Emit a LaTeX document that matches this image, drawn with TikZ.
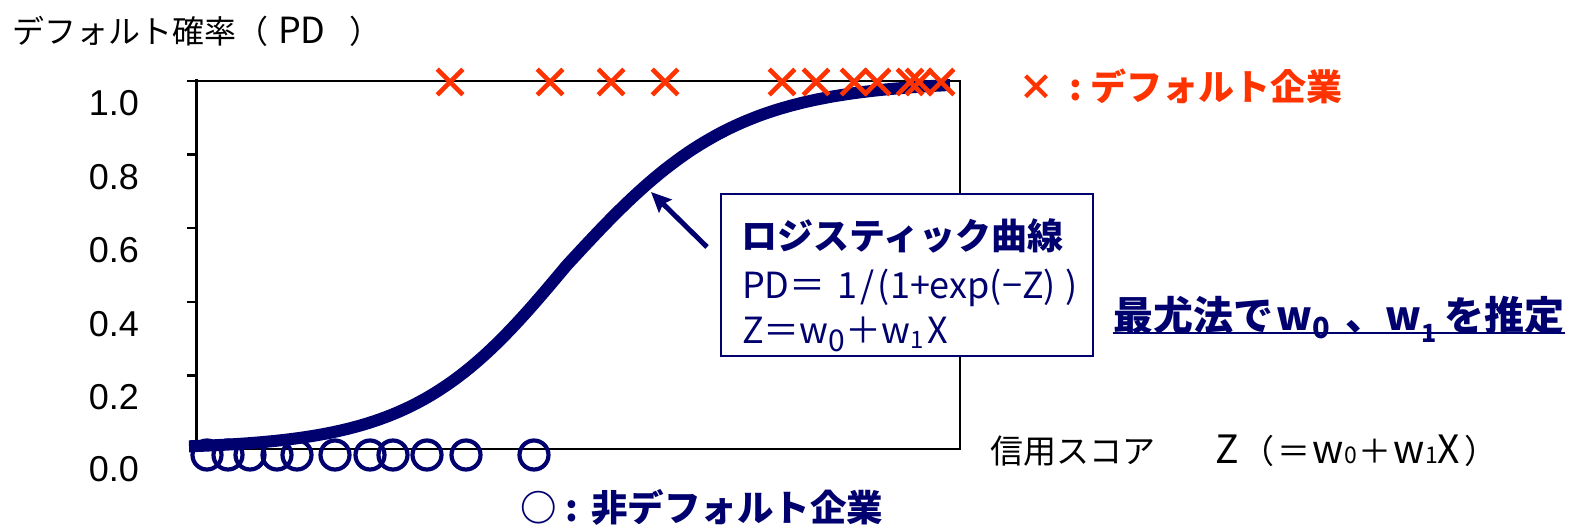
\documentclass[tikz,border=0pt]{standalone}
\usepackage{fontspec}
\setmainfont{Liberation Sans}
\newfontfamily\cjk{Noto Sans CJK JP}
\usetikzlibrary{arrows.meta,shapes.misc}
\definecolor{navy}{RGB}{0,0,110}
\definecolor{dred}{RGB}{255,51,0}
\newcommand{\fsz}[1]{\fontsize{#1}{#1}\selectfont}
\newcommand{\lsub}[3]{\raisebox{-#1}{\fsz{#2}#3}}
\newcommand{\lat}[2]{{\fsz{#1}#2}}
\begin{document}
\begin{tikzpicture}[x=1pt,y=-1pt,
  ticklbl/.style={anchor=east,inner sep=0,font=\fsz{36}},
  defm/.style={draw=dred,shape=cross out,minimum size=21,line width=4.6,inner sep=0},
  ndm/.style={draw=navy,circle,minimum size=29,line width=4.2,inner sep=0},
  jtxt/.style={inner sep=0,anchor=west,font=\cjk\fsz{#1}},
  jtxt/.default=33,
  curvestyle/.style={draw=navy,line width=12,line join=round},
  pointer/.style={draw=navy,line width=5,-{Stealth[length=20pt,width=18pt,inset=3pt]}}]
\useasboundingbox (0,0) rectangle (1573,529);
% frame
\draw[line width=2] (196,81) rectangle (960,449);
\draw[line width=3] (196,79) -- (196,450);
\foreach \yy in {81,154.6,228.2,301.8,375.4}
  \draw[line width=2.5] (187,\yy) -- (196,\yy);
% tick labels
\foreach \v/\yy [count=\i] in {1.0/103,0.8/177,0.6/250,0.4/324,0.2/397,0.0/469}
  \node[ticklbl] (t\i) at (139,\yy) {\v};
% title
\node[jtxt=32] (title) at (12,31) {デフォルト確率（\hspace{10pt}\lat{36}{PD}\hspace{24pt}）};
% non default circles
\foreach \x [count=\i] in {207,228,250,277,297,335,370,393,427,466,534}
  \node[ndm] (n\i) at (\x,455) {};
% curve
\draw[curvestyle] plot[domain=189:950,samples=140]
  (\x,{449-368*(1/(1+exp(-(\x-567)/ifthenelse(\x<567,77,85))))});
% default crosses
\foreach \x [count=\i] in {450,550,611,665,782,816,854,877,910,919,941}
  \node[defm] (d\i) at (\x,82) {};
% legends
\node[jtxt=36,text=dred,font=\cjk\bfseries\fsz{36}] (leg1) at (1018,86) {×\hspace{15pt}:\hspace{9pt}デフォルト企業};
\node[jtxt=36,text=navy,font=\cjk\bfseries\fsz{36.5}] (leg2) at (520,507) {○\hspace{9pt}:\hspace{13pt}非デフォルト企業};
% x label
\node[jtxt=33] (xlab) at (990,451) {信用スコア\hspace{60pt}\lat{39}{Z}\hspace{3pt}（\hspace{3pt}＝\hspace{2pt}\lat{39}{w}\lsub{0pt}{23}{0}\hspace{2pt}＋\hspace{2pt}\lat{39}{w}\lsub{0pt}{23}{1}\lat{39}{X}\hspace{4pt}）};
% text box
\node[draw=navy,line width=2,fill=white,minimum width=372,minimum height=162,anchor=north west,inner sep=0] (box) at (720,193) {};
\node[jtxt=36,text=navy,font=\cjk\bfseries\fsz{36}] (bt1) at (741,236) {ロジスティック曲線};
\node[jtxt=36,text=navy] (bt2) at (742,288) {PD＝\hspace{12pt}1\hspace{3pt}/\hspace{3pt}(1+exp(−Z)\hspace{10pt})};
\node[jtxt=36,text=navy] (bt3) at (742,334) {Z＝w\lsub{0.22em}{30}{0}＋w\lsub{0.15em}{24}{1}\hspace{4pt}X};
% pointer
\coordinate (tip) at (651,192);
\coordinate (tail) at (707,247);
\draw[pointer] (tail) -- (tip);
% right note
\node[inner sep=0,anchor=base west,text=navy,font=\cjk\bfseries\fsz{40}] (mle) at (1113,330) {最尤法で\hspace{3pt}w\lsub{0.2em}{29}{0}\hspace{16pt}、w\lsub{0.3em}{25}{1}\hspace{8pt}を推定};
\draw[navy,line width=2] ([yshift=-3pt]mle.base west) -- ([yshift=-3pt]mle.base east);
\end{tikzpicture}
\end{document}
